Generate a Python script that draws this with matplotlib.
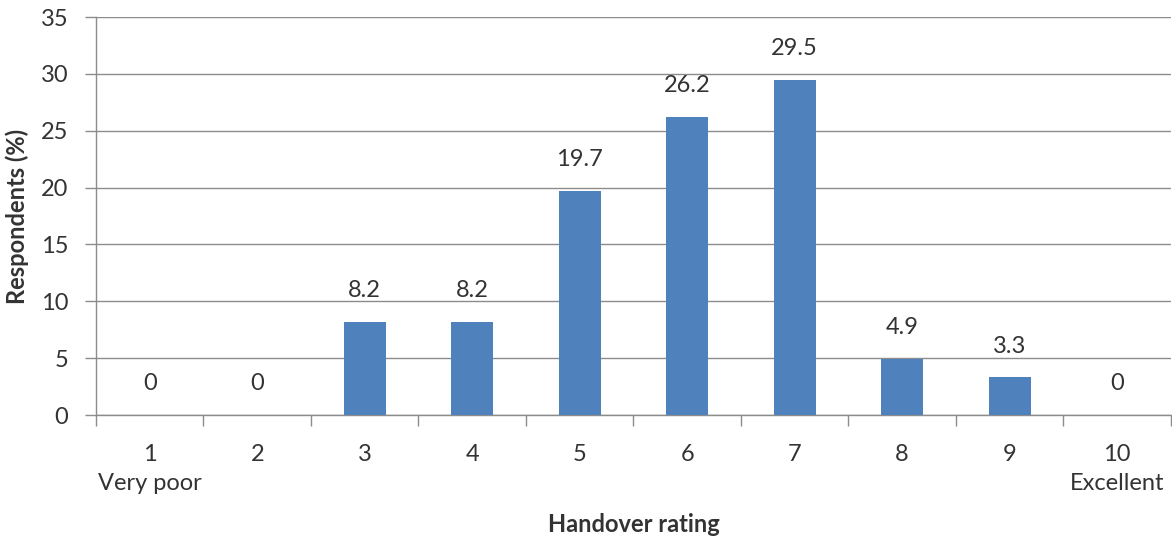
import matplotlib.pyplot as plt
import numpy as np

plt.rcParams['font.family'] = ['Lato', 'DejaVu Sans']

ratings = [1, 2, 3, 4, 5, 6, 7, 8, 9, 10]
tick_labels = ["1\nVery poor", "2", "3", "4", "5", "6", "7", "8", "9", "10\nExcellent"]
respondents = [0, 0, 8.2, 8.2, 19.7, 26.2, 29.5, 4.9, 3.3, 0]

bar_color = "#4F81BD"
grid_color = "#8c8c8c"
text_color = "#333333"
fs = 17

fig = plt.figure(figsize=(11.72, 5.42), dpi=100)
ax = fig.add_axes([96 / 1172, 1 - 415 / 542, 1 - 96 / 1172 - 0.001, (415 - 17) / 542])

x = np.array(ratings)
ax.bar(x, respondents, width=0.39, color=bar_color, zorder=3)

for xi, v in zip(x, respondents):
    ax.annotate(f"{v:g}", (xi, v), xytext=(0, 15), textcoords="offset points",
                ha="center", va="bottom", fontsize=fs, color=text_color)

ax.set_xlim(0.5, 10.5)
ax.set_ylim(0, 35)
ax.set_yticks(range(0, 36, 5))
ax.yaxis.grid(True, color=grid_color, linewidth=1.0, zorder=0)

# category boundaries get the tick marks, centres get the labels
ax.set_xticks(np.arange(0.5, 11, 1))
ax.set_xticklabels([])
ax.set_xticks(x, minor=True)
ax.set_xticklabels(tick_labels, minor=True, linespacing=1.45, va="top")
ax.tick_params(axis="x", which="major", length=8, color=grid_color, width=1)
ax.tick_params(axis="x", which="minor", length=0, pad=21, labelsize=fs, labelcolor=text_color)
ax.tick_params(axis="y", length=8, color=grid_color, width=1, pad=12,
               labelsize=fs, labelcolor=text_color)

for side in ["top", "right"]:
    ax.spines[side].set_visible(False)
for side in ["left", "bottom"]:
    ax.spines[side].set_color(grid_color)
    ax.spines[side].set_linewidth(1.0)

ax.set_xlabel("Handover rating", fontsize=fs, fontweight="bold", color=text_color, labelpad=14)
ax.set_ylabel("Respondents (%)", fontsize=fs, fontweight="bold", color=text_color, labelpad=20)
ax.yaxis.set_label_coords(-0.062, 0.5)

fig.savefig("out.png", dpi=100)
